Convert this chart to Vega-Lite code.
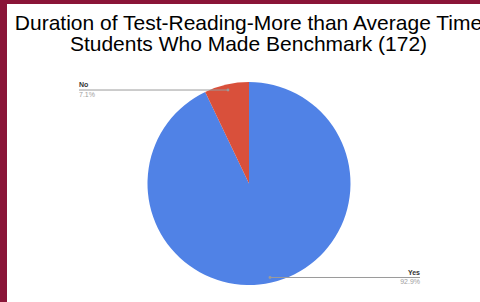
{
  "$schema": "https://vega.github.io/schema/vega-lite/v6.json",
  "width": 473,
  "height": 298,
  "autosize": {"type": "none"},
  "padding": {"left": 7, "top": 4, "right": 0, "bottom": 0},
  "background": "#8a1538",
  "config": {"view": {"fill": "#ffffff", "stroke": null}, "font": "Liberation Sans"},
  "title": {
    "text": ["Duration of Test-Reading-More than Average Time", "Students Who Made Benchmark (172)"],
    "font": "Liberation Sans",
    "fontSize": 21,
    "fontWeight": "normal",
    "color": "#000000",
    "anchor": "middle",
    "frame": "group",
    "baseline": "alphabetic",
    "offset": -24.5,
    "lineHeight": 21,
    "dx": 5,
    "dy": 43.5
  },
  "data": {"values": [
    {"category": "Yes", "share": 0.929},
    {"category": "No", "share": 0.071}
  ]},
  "layer": [
    {
      "mark": {"type": "arc", "outerRadius": 101.5},
      "encoding": {
        "theta": {"field": "share", "type": "quantitative", "stack": true},
        "order": {"field": "share", "type": "quantitative", "sort": "descending"},
        "color": {"field": "category", "type": "nominal", "scale": {"domain": ["Yes", "No"], "range": ["#5082e6", "#d9503b"]}, "legend": null},
        "x": {"datum": 0, "type": "quantitative", "scale": {"domain": [-2.3842, 2.2759], "nice": false, "zero": false}, "axis": null},
        "y": {"datum": 0, "type": "quantitative", "scale": {"domain": [-1.1675, 1.7685], "nice": false, "zero": false}, "axis": null}
      }
    },
    {
      "transform": [{"filter": "datum.category === 'No'"}],
      "mark": {"type": "rule", "color": "#9a9a9a", "strokeWidth": 1},
      "encoding": {
        "x": {"datum": -1.675, "type": "quantitative"},
        "x2": {"datum": -0.207},
        "y": {"datum": 0.921, "type": "quantitative"}
      }
    },
    {
      "transform": [{"filter": "datum.category === 'No'"}],
      "mark": {"type": "point", "filled": true, "color": "#9a9a9a", "size": 8, "opacity": 1},
      "encoding": {
        "x": {"datum": -0.207, "type": "quantitative"},
        "y": {"datum": 0.921, "type": "quantitative"}
      }
    },
    {
      "transform": [{"filter": "datum.category === 'No'"}],
      "mark": {"type": "text", "align": "left", "baseline": "alphabetic", "fontSize": 7, "fontWeight": "bold", "color": "#333333"},
      "encoding": {
        "x": {"datum": -1.675, "type": "quantitative"},
        "y": {"datum": 0.946, "type": "quantitative"},
        "text": {"field": "category"}
      }
    },
    {
      "transform": [{"filter": "datum.category === 'No'"}],
      "mark": {"type": "text", "align": "left", "baseline": "alphabetic", "fontSize": 7, "color": "#9e9e9e"},
      "encoding": {
        "x": {"datum": -1.675, "type": "quantitative"},
        "y": {"datum": 0.852, "type": "quantitative"},
        "text": {"field": "share", "type": "quantitative", "format": ".1%"}
      }
    },
    {
      "transform": [{"filter": "datum.category === 'Yes'"}],
      "mark": {"type": "rule", "color": "#9a9a9a", "strokeWidth": 1},
      "encoding": {
        "x": {"datum": 0.207, "type": "quantitative"},
        "x2": {"datum": 1.685},
        "y": {"datum": -0.926, "type": "quantitative"}
      }
    },
    {
      "transform": [{"filter": "datum.category === 'Yes'"}],
      "mark": {"type": "point", "filled": true, "color": "#9a9a9a", "size": 8, "opacity": 1},
      "encoding": {
        "x": {"datum": 0.207, "type": "quantitative"},
        "y": {"datum": -0.926, "type": "quantitative"}
      }
    },
    {
      "transform": [{"filter": "datum.category === 'Yes'"}],
      "mark": {"type": "text", "align": "right", "baseline": "alphabetic", "fontSize": 7, "fontWeight": "bold", "color": "#333333"},
      "encoding": {
        "x": {"datum": 1.685, "type": "quantitative"},
        "y": {"datum": -0.906, "type": "quantitative"},
        "text": {"field": "category"}
      }
    },
    {
      "transform": [{"filter": "datum.category === 'Yes'"}],
      "mark": {"type": "text", "align": "right", "baseline": "alphabetic", "fontSize": 7, "color": "#9e9e9e"},
      "encoding": {
        "x": {"datum": 1.685, "type": "quantitative"},
        "y": {"datum": -0.995, "type": "quantitative"},
        "text": {"field": "share", "type": "quantitative", "format": ".1%"}
      }
    }
  ]
}
